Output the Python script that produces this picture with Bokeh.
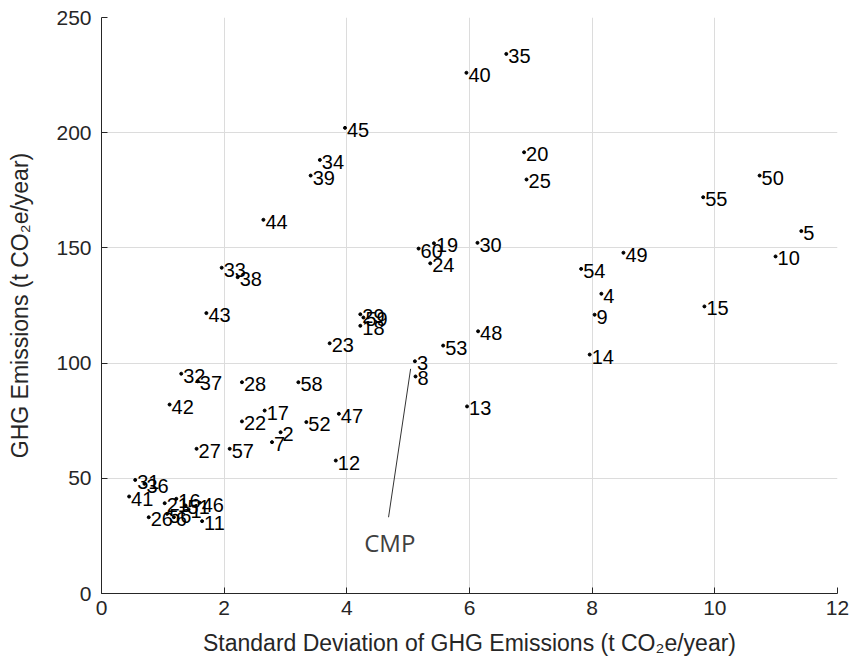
from bokeh.plotting import figure
from bokeh.models import Range1d, FixedTicker, ColumnDataSource
from bokeh.core.properties import value
from bokeh.embed import file_html
from bokeh.resources import INLINE

# ---- data ----
site_ids = list(range(1, 61))
std_dev = [1.42, 2.92, 5.11, 8.15, 11.41, 1.18, 2.78, 5.12, 8.04, 10.99,
           1.64, 3.82, 5.96, 7.96, 9.83, 1.22, 2.66, 4.22, 5.42, 6.89,
           1.03, 2.29, 3.72, 5.36, 6.93, 0.77, 1.55, 2.29, 4.22, 6.13,
           0.55, 1.30, 1.96, 3.56, 6.60, 0.70, 1.57, 2.22, 3.41, 5.95,
           0.45, 1.11, 1.71, 2.64, 3.97, 1.60, 3.87, 6.14, 8.51, 10.73,
           1.37, 3.34, 5.57, 7.82, 9.81, 1.07, 2.09, 3.21, 4.27, 5.17]
ghg = [36.5, 70.0, 100.8, 130.1, 157.3, 33.1, 65.7, 94.2, 121.0, 146.3,
       31.4, 57.7, 81.2, 103.7, 124.6, 41.1, 79.4, 116.2, 152.0, 191.5,
       39.2, 74.7, 108.6, 143.3, 179.7, 33.1, 62.8, 91.7, 121.2, 152.2,
       49.3, 95.4, 141.4, 188.2, 234.2, 47.6, 92.1, 137.3, 181.4, 226.0,
       42.1, 82.0, 121.7, 162.2, 202.1, 39.4, 78.0, 113.8, 147.9, 181.4,
       38.2, 74.4, 107.6, 140.9, 172.0, 34.6, 62.8, 91.7, 119.8, 149.7]
x_ticks = [0, 2, 4, 6, 8, 10, 12]
y_ticks = [0, 50, 100, 150, 200, 250]
cmp_line_x = [5.04, 4.68]
cmp_line_y = [97.5, 33.1]
cmp_label_x = [4.70]
cmp_label_y = [22.3]
cmp_label = ["CMP"]

src = ColumnDataSource(dict(x=std_dev, y=ghg, t=[str(i) for i in site_ids]))

p = figure(width=851, height=668, output_backend="svg", toolbar_location=None,
           x_range=Range1d(0, 12), y_range=Range1d(0, 250),
           min_border_left=101, min_border_right=14, min_border_top=17,
           min_border_bottom=75)
p.outline_line_color = None
p.background_fill_color = "white"

for ax in (p.xaxis[0], p.yaxis[0]):
    ax.axis_line_color = "#262626"
    ax.major_tick_line_color = "#262626"
    ax.major_tick_in = 6
    ax.major_tick_out = 0
    ax.minor_tick_line_color = None
    ax.major_label_text_font = "Liberation Sans"
    ax.major_label_text_font_size = "21px"
    ax.major_label_text_color = "#262626"
    ax.axis_label_text_font = "Liberation Sans"
    ax.axis_label_text_font_size = "23px"
    ax.axis_label_text_font_style = "normal"
    ax.axis_label_text_color = "#262626"

p.xaxis.ticker = FixedTicker(ticks=x_ticks)
p.yaxis.ticker = FixedTicker(ticks=y_ticks)
p.xaxis.axis_label = "Standard Deviation of GHG Emissions (t CO\u2082e/year)"
p.yaxis.axis_label = "GHG Emissions (t CO\u2082e/year)"
p.xaxis.major_label_standoff = 7
p.yaxis.major_label_standoff = 10
p.xaxis.axis_label_standoff = 12
p.yaxis.axis_label_standoff = 20

p.xgrid.ticker = FixedTicker(ticks=x_ticks)
p.ygrid.ticker = FixedTicker(ticks=y_ticks)
p.grid.grid_line_color = "#dcdcdc"
p.grid.grid_line_width = 1

p.scatter("x", "y", source=src, size=3, color="black")
p.text("x", "y", text="t", source=src, x_offset=2, y_offset=2,
       text_font=value("Liberation Sans"), text_font_size="20px",
       text_baseline="middle", text_align="left", text_color="black")

p.line(cmp_line_x, cmp_line_y, line_color="#333333", line_width=1)
p.text(cmp_label_x, cmp_label_y, text=cmp_label, text_font=value("Open Sans"),
       text_font_size="24px", text_align="center", text_baseline="middle",
       text_color="#404040")

open("out.html", "w").write(file_html(p, INLINE))
